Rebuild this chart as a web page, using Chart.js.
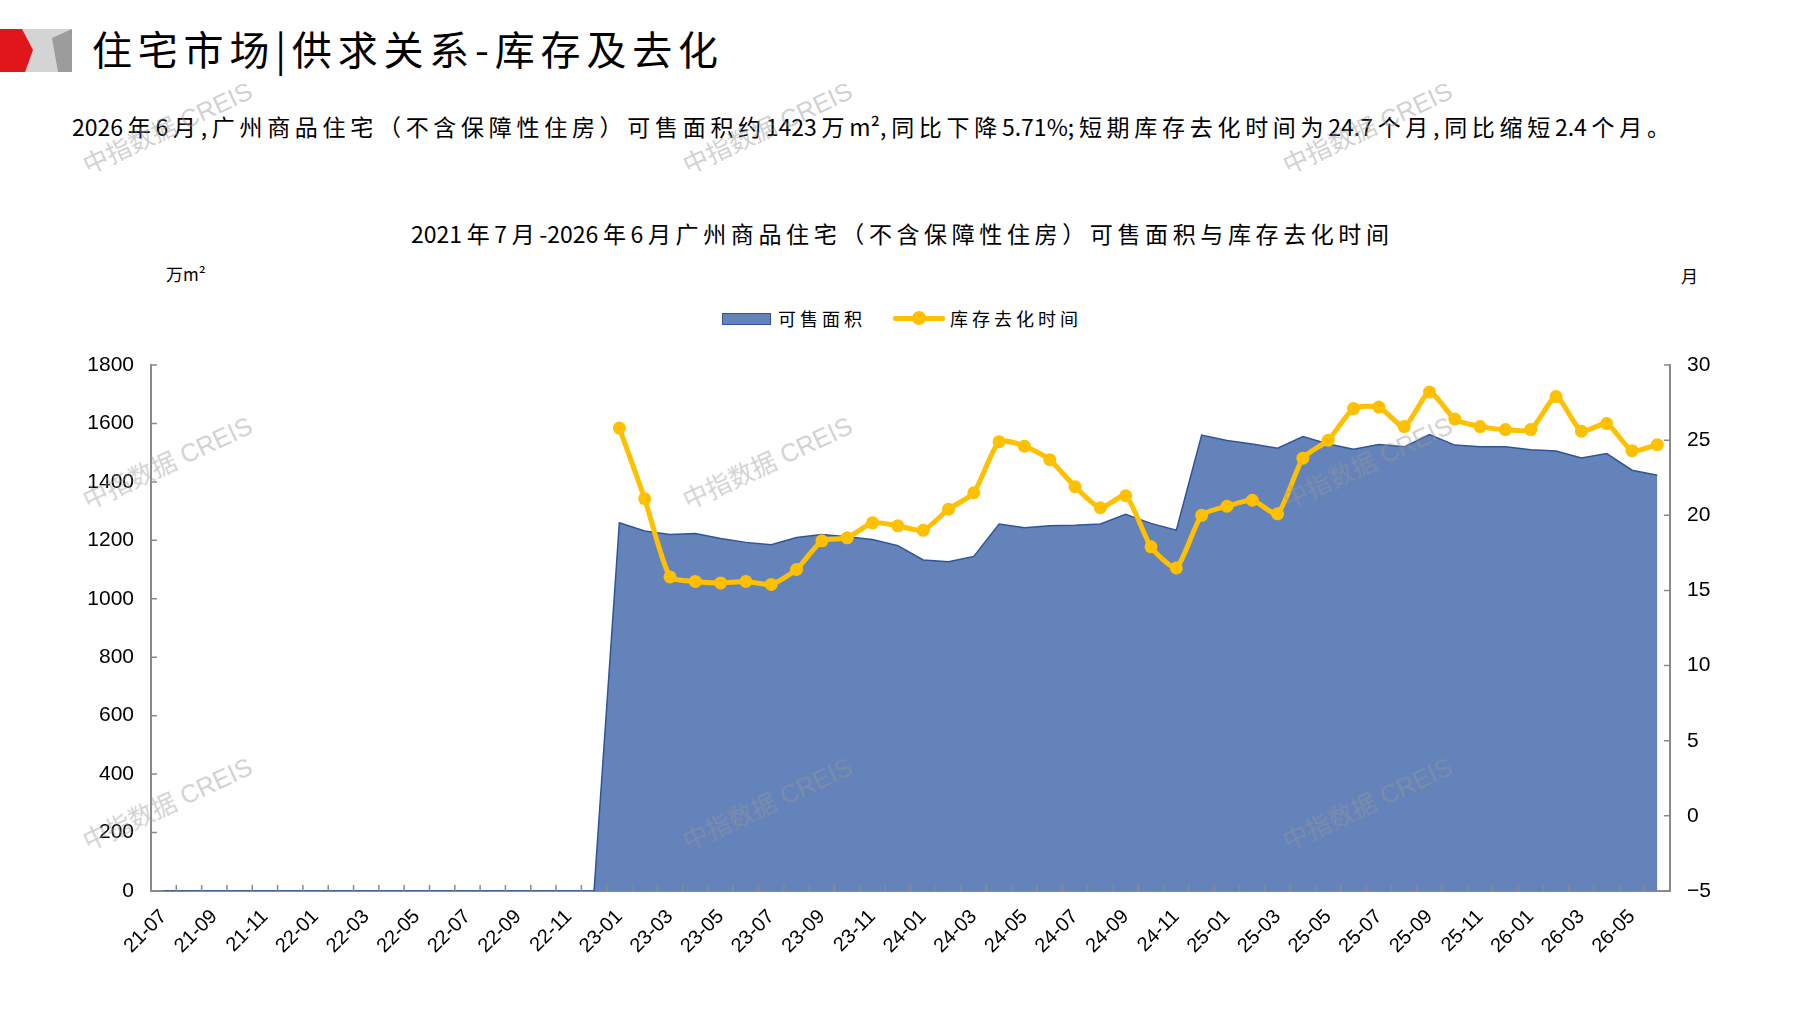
<!DOCTYPE html>
<html lang="zh">
<head>
    <meta charset="UTF-8">
    <title>住宅市场|供求关系-库存及去化</title>
    <script src="https://cdn.jsdelivr.net/npm/chart.js"></script>
</head>
<style>
    body {
        margin: 0;
        width: 1797px;
        height: 1010px;
        position: relative;
        background: #ffffff;
        font-family: "Noto Sans CJK SC", sans-serif;
        overflow: hidden;
    }

    .just {
        position: absolute;
        text-align: justify;
        text-align-last: justify;
        color: #000;
        line-height: 1;
    }

    /* 页眉 */
    .headTitle {
        left: 92px;
        top: 28px;
        width: 626px;
        font-size: 40px;
    }

    .subTitle {
        left: 72px;
        top: 115px;
        width: 1598px;
        font-size: 23px;
    }

    .chartTitle {
        left: 411px;
        top: 222px;
        width: 978px;
        font-size: 23px;
    }

    .unit {
        position: absolute;
        font-size: 17px;
        line-height: 1;
    }

    .legend {
        position: absolute;
        top: 309px;
        left: 722px;
        height: 20px;
        font-size: 18px;
        line-height: 20px;
        letter-spacing: 4px;
    }

    .legend span {
        position: absolute;
        white-space: nowrap;
    }

    .wm {
        position: absolute;
        font-family: "Liberation Sans", "Noto Sans CJK SC", sans-serif;
        font-size: 25px;
        color: rgba(150, 150, 150, 0.45);
        transform: rotate(-25deg);
        white-space: nowrap;
        z-index: 5;
        pointer-events: none;
    }

    #chart {
        position: absolute;
        left: 0;
        top: 290px;
    }
</style>
<body>
    <svg style="position:absolute;left:0;top:29px" width="74" height="43">
        <rect x="20" y="0" width="52" height="43" fill="#d4d4d4"></rect>
        <polygon points="52,9 72,0 72,43 58,43" fill="#9c9c9c"></polygon>
        <polygon points="0,0 22,0 33,21 25,43 0,43" fill="#e0161b"></polygon>
    </svg>
    <div class="just headTitle">住宅市场|供求关系-库存及去化</div>
    <div class="just subTitle">2026年6月,广州商品住宅（不含保障性住房）可售面积约1423万m²,同比下降5.71%;短期库存去化时间为24.7个月,同比缩短2.4个月。</div>
    <div class="just chartTitle">2021年7月-2026年6月广州商品住宅（不含保障性住房）可售面积与库存去化时间</div>

    <div class="unit" style="left:166px;top:265px;">万m²</div>
    <div class="unit" style="left:1681px;top:267px;">月</div>

    <div class="legend">
        <span style="left:0;top:4px;width:47px;height:10px;background:#6483BA;border:1px solid #2F5597;"></span>
        <span style="left:56px;top:-1px;">可售面积</span>
        <span style="left:171px;top:7px;width:52px;height:5px;background:#FFC000;border-radius:2px;"></span>
        <span style="left:190px;top:2px;width:14px;height:14px;background:#FFC000;border-radius:50%;"></span>
        <span style="left:228px;top:-1px;">库存去化时间</span>
    </div>

    <div class="wm" style="left:75px;top:108px;">中指数据 CREIS</div>
    <div class="wm" style="left:675px;top:108px;">中指数据 CREIS</div>
    <div class="wm" style="left:1275px;top:108px;">中指数据 CREIS</div>
    <div class="wm" style="left:75px;top:443px;">中指数据 CREIS</div>
    <div class="wm" style="left:675px;top:443px;">中指数据 CREIS</div>
    <div class="wm" style="left:1275px;top:443px;">中指数据 CREIS</div>
    <div class="wm" style="left:75px;top:784px;">中指数据 CREIS</div>
    <div class="wm" style="left:675px;top:784px;">中指数据 CREIS</div>
    <div class="wm" style="left:1275px;top:784px;">中指数据 CREIS</div>

    <canvas id="chart" width="1797" height="720"></canvas>

    <script>
        // 月份 (21-07 ~ 26-06)
        const months = [
            '21-07', '21-08', '21-09', '21-10', '21-11', '21-12',
            '22-01', '22-02', '22-03', '22-04', '22-05', '22-06',
            '22-07', '22-08', '22-09', '22-10', '22-11', '22-12',
            '23-01', '23-02', '23-03', '23-04', '23-05', '23-06',
            '23-07', '23-08', '23-09', '23-10', '23-11', '23-12',
            '24-01', '24-02', '24-03', '24-04', '24-05', '24-06',
            '24-07', '24-08', '24-09', '24-10', '24-11', '24-12',
            '25-01', '25-02', '25-03', '25-04', '25-05', '25-06',
            '25-07', '25-08', '25-09', '25-10', '25-11', '25-12',
            '26-01', '26-02', '26-03', '26-04', '26-05', '26-06'
        ];

        // 可售面积 (万m²)，2023年以前无数据
        const saleArea = [
            0, 0, 0, 0, 0, 0,
            0, 0, 0, 0, 0, 0,
            0, 0, 0, 0, 0, 0,
            1260, 1232, 1220, 1223, 1206, 1193,
            1185, 1210, 1220, 1212, 1203, 1182,
            1133, 1127, 1145, 1256, 1243, 1250,
            1252, 1256, 1289, 1258, 1235, 1560,
            1542, 1530, 1515, 1555, 1530, 1512,
            1528, 1520, 1562, 1526, 1520, 1520,
            1510, 1506, 1482, 1497, 1440, 1423
        ];

        // 库存去化时间 (月)
        const clearMonths = [
            null, null, null, null, null, null,
            null, null, null, null, null, null,
            null, null, null, null, null, null,
            25.8, 21.1, 15.9, 15.6, 15.5, 15.6,
            15.4, 16.4, 18.3, 18.5, 19.5, 19.3,
            19.0, 20.4, 21.5, 24.9, 24.6, 23.7,
            21.9, 20.5, 21.3, 17.9, 16.5, 20.0,
            20.6, 21.0, 20.1, 23.8, 25.0, 27.1,
            27.2, 25.9, 28.2, 26.4, 25.9, 25.7,
            25.7, 27.9, 25.6, 26.1, 24.3, 24.7
        ];

        const yFont = { family: '"Liberation Sans", Arial, sans-serif', size: 21 };
        const xFont = { family: '"Liberation Sans", Arial, sans-serif', size: 20 };
        const axisColor = '#8a8a8a';

        // 坐标轴内侧刻度线
        const innerTicks = {
            id: 'innerTicks',
            afterDraw(chart) {
                const ctx = chart.ctx;
                const x = chart.scales.x, y = chart.scales.y, y1 = chart.scales.y1;
                const len = 6;
                ctx.save();
                ctx.strokeStyle = axisColor;
                ctx.lineWidth = 1.5;
                ctx.beginPath();
                y.ticks.forEach((t, i) => {
                    const py = y.getPixelForTick(i);
                    ctx.moveTo(y.right, py);
                    ctx.lineTo(y.right + len, py);
                });
                y1.ticks.forEach((t, i) => {
                    const py = y1.getPixelForTick(i);
                    ctx.moveTo(y1.left, py);
                    ctx.lineTo(y1.left - len, py);
                });
                const half = (x.getPixelForValue(1) - x.getPixelForValue(0)) / 2;
                for (let i = 0; i <= months.length; i++) {
                    const px = x.getPixelForValue(i) - half;
                    ctx.moveTo(px, x.top);
                    ctx.lineTo(px, x.top - len);
                }
                ctx.stroke();
                ctx.restore();
            }
        };

        const ctx = document.getElementById('chart').getContext('2d');
        const chart = new Chart(ctx, {
            type: 'line',
            data: {
                labels: months,
                datasets: [
                    {
                        label: '库存去化时间',
                        data: clearMonths,
                        yAxisID: 'y1',
                        borderColor: '#FFC000',
                        backgroundColor: '#FFC000',
                        borderWidth: 5,
                        pointRadius: 6.5,
                        pointBorderWidth: 0,
                        pointBackgroundColor: '#FFC000',
                        tension: 0.2,
                        fill: false,
                        order: 0,
                    },
                    {
                        label: '可售面积',
                        data: saleArea,
                        yAxisID: 'y',
                        borderColor: '#2F5597',
                        backgroundColor: '#6483BA',
                        borderWidth: 1.5,
                        pointRadius: 0,
                        tension: 0,
                        fill: 'origin',
                        order: 1,
                    },
                ],
            },
            options: {
                responsive: false,
                animation: false,
                devicePixelRatio: 1,
                layout: { padding: { top: 75, left: 0, right: 0, bottom: 0 } },
                plugins: {
                    legend: { display: false },
                    title: { display: false },
                    tooltip: { enabled: false },
                },
                scales: {
                    x: {
                        offset: true,
                        grid: { display: false },
                        border: { color: axisColor, width: 2 },
                        ticks: {
                            autoSkip: false,
                            minRotation: 45,
                            maxRotation: 45,
                            padding: 6,
                            color: '#000',
                            font: xFont,
                            callback: (v, i) => (i % 2 === 0 ? months[i] : ''),
                        },
                        afterFit: (s) => { s.height = 119; },
                    },
                    y: {
                        position: 'left',
                        min: 0,
                        max: 1800,
                        grid: { display: false },
                        border: { color: axisColor, width: 2 },
                        ticks: {
                            stepSize: 200,
                            padding: 9,
                            color: '#000',
                            font: yFont,
                            callback: (v) => String(v),
                        },
                        afterFit: (s) => { s.width = 151; },
                    },
                    y1: {
                        position: 'right',
                        min: -5,
                        max: 30,
                        grid: { display: false },
                        border: { color: axisColor, width: 2 },
                        ticks: {
                            stepSize: 5,
                            padding: 9,
                            color: '#000',
                            font: yFont,
                            callback: (v) => (v < 0 ? '\u2212' + Math.abs(v) : String(v)),
                        },
                        afterFit: (s) => { s.width = 127; },
                    },
                },
            },
            plugins: [innerTicks],
        });
    </script>
</body>
</html>
